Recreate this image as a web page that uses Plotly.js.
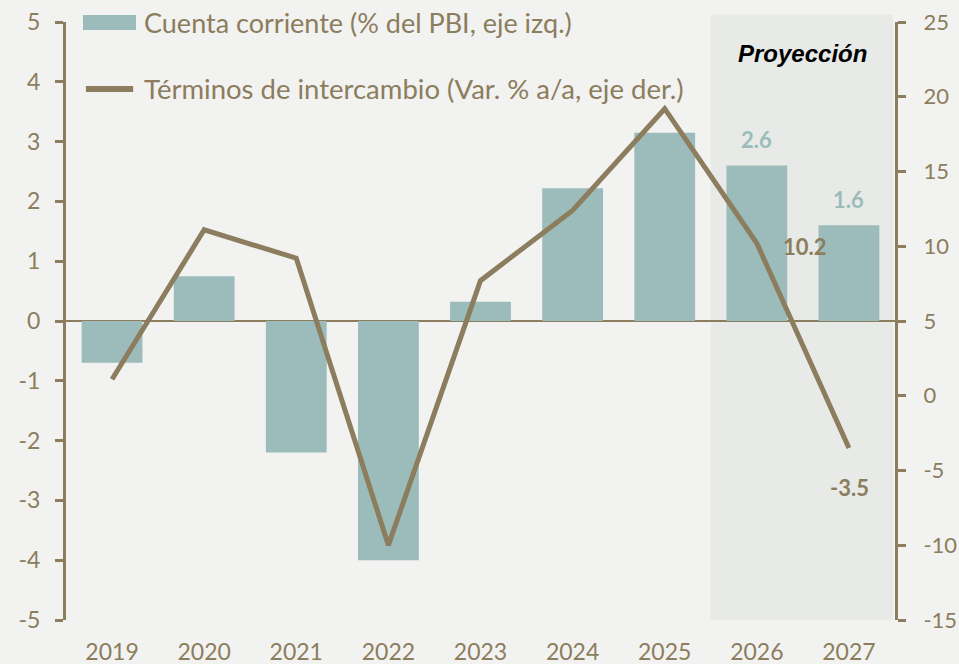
<!DOCTYPE html>
<html>
<head>
<meta charset="utf-8">
<script src="https://cdn.plot.ly/plotly-3.0.1.min.js"></script>
<style>html,body{margin:0;padding:0;background:#f2f2f0;}#chart{width:959px;height:664px;}</style>
</head>
<body>
<div id="chart"></div>
<script>
const years = ['2019','2020','2021','2022','2023','2024','2025','2026','2027'];
const cuentaCorriente = [-0.7, 0.75, -2.2, -4.0, 0.32, 2.22, 3.15, 2.6, 1.6];
const terminosIntercambio = [1.1, 11.1, 9.2, -10.0, 7.7, 12.4, 19.2, 10.2, -3.5];
const barLabels = ['', '', '', '', '', '', '', '2.6', '1.6'];
const lineLabels = ['', '', '', '', '', '', '', '10.2', '-3.5'];
const seriesNames = ['Cuenta corriente (% del PBI, eje izq.)', 'Términos de intercambio (Var. % a/a, eje der.)'];
const leftTicks = [-5,-4,-3,-2,-1,0,1,2,3,4,5];
const leftTickText = ['-5','-4','-3','-2','-1','0','1','2','3','4','5'];
const rightTicks = [-15,-10,-5,0,5,10,15,20,25];
const rightTickText = ['-15','-10','-5','0','5','10','15','20','25'];
const projStart = 6.5, projEnd = 8.5;
const projLabel = 'Proyección';

const tan = '#8b7d5d';
const teal = '#9bbcba';
const font = 'Lato, "Open Sans", sans-serif';

const traces = [
  {
    type: 'bar', x: years, y: cuentaCorriente, name: seriesNames[0],
    marker: {color: teal}, width: 0.66, yaxis: 'y', showlegend: false, hoverinfo: 'skip'
  },
  {
    type: 'scatter', mode: 'lines', x: years, y: terminosIntercambio, yaxis: 'y2',
    name: seriesNames[1], line: {color: tan, width: 5}, showlegend: false, hoverinfo: 'skip'
  }
];

const annotations = [];
years.forEach((yr, i) => {
  if (barLabels[i]) annotations.push({x: i, y: cuentaCorriente[i], xref: 'x', yref: 'y', text: '<b>' + barLabels[i] + '</b>',
    showarrow: false, yshift: 26, font: {family: font, size: 22, color: teal}});
});
annotations.push({x: 7, y: terminosIntercambio[7], xref: 'x', yref: 'y2', text: '<b>' + lineLabels[7] + '</b>',
  showarrow: false, xshift: 48, yshift: -3, font: {family: font, size: 22, color: tan}});
annotations.push({x: 8, y: terminosIntercambio[8], xref: 'x', yref: 'y2', text: '<b>' + lineLabels[8] + '</b>',
  showarrow: false, xshift: 1, yshift: -39, font: {family: font, size: 22, color: tan}});
annotations.push({x: (projStart + projEnd) / 2, y: 1.0, xref: 'x', yref: 'paper', yanchor: 'middle', yshift: -31,
  text: '<b><i>' + projLabel + '</i></b>', showarrow: false,
  font: {family: '"Liberation Sans", Arial, sans-serif', size: 24, color: '#000000'}});
// legend texts
annotations.push({x: 0.0917, y: 1.0, xref: 'paper', yref: 'paper', xanchor: 'left', yanchor: 'middle',
  text: seriesNames[0], showarrow: false, font: {family: font, size: 27, color: tan}});
annotations.push({x: 0.0917, y: 0.8896, xref: 'paper', yref: 'paper', xanchor: 'left', yanchor: 'middle',
  text: seriesNames[1], showarrow: false, font: {family: font, size: 27.5, color: tan}});

const layout = {
  width: 959, height: 664,
  paper_bgcolor: '#f2f2f0', plot_bgcolor: '#f2f2f0',
  margin: {l: 66, r: 64, t: 22, b: 44, autoexpand: false},
  font: {family: font, color: tan, size: 22},
  showlegend: false,
  xaxis: {type: 'category', showline: false, showgrid: false, zeroline: false, ticks: '',
          tickfont: {size: 23, color: tan}, ticklabelstandoff: 16, range: [-0.5, 8.5], fixedrange: true},
  yaxis: {range: [-5, 5], tickvals: leftTicks, ticktext: leftTickText, showgrid: false,
          zeroline: true, zerolinecolor: tan, zerolinewidth: 2,
          showline: true, linecolor: tan, linewidth: 3, ticks: 'outside', ticklen: 8, tickwidth: 3, tickcolor: tan,
          ticklabelstandoff: 10, tickfont: {size: 23, color: tan}},
  yaxis2: {range: [-15, 25], tickvals: rightTicks, ticktext: rightTickText, overlaying: 'y', side: 'right',
          showgrid: false, zeroline: false, showline: true, linecolor: tan, linewidth: 3,
          ticks: 'outside', ticklen: 8, tickwidth: 3, tickcolor: tan, ticklabelstandoff: 13, tickfont: {size: 22, color: tan}},
  shapes: [
    {type: 'rect', xref: 'x', yref: 'paper', x0: projStart, x1: projEnd - 0.02, y0: 0, y1: 1.012,
     fillcolor: '#e8eae7', line: {width: 0}, layer: 'below'},
    // legend swatches
    {type: 'rect', xref: 'paper', yref: 'paper', x0: 0.0205, x1: 0.0844, y0: 0.9866, y1: 1.0117,
     fillcolor: teal, line: {width: 0}},
    {type: 'line', xref: 'paper', yref: 'paper', x0: 0.024, x1: 0.081, y0: 0.888, y1: 0.888,
     line: {color: tan, width: 6}}
  ],
  annotations: annotations
};

Plotly.newPlot('chart', traces, layout, {displayModeBar: false, staticPlot: true});
</script>
</body>
</html>
